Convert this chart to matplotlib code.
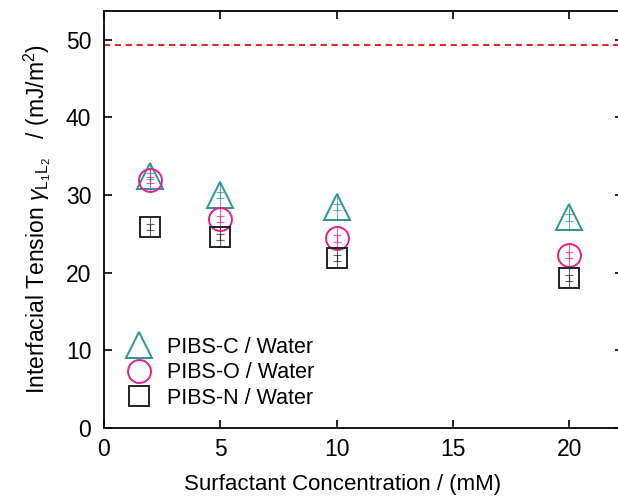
import numpy as np
import matplotlib
matplotlib.use("Agg")
import matplotlib.pyplot as plt

plt.rcParams['font.family'] = ['Liberation Sans', 'DejaVu Sans']
plt.rcParams['mathtext.fontset'] = 'custom'
plt.rcParams['mathtext.rm'] = 'Liberation Sans'
plt.rcParams['mathtext.it'] = 'Liberation Sans:italic'

conc = [2, 5, 10, 20]
pibs_c = [32.4, 30.0, 28.5, 27.1]
pibs_o = [31.9, 26.9, 24.4, 22.3]
pibs_n = [25.9, 24.6, 21.9, 19.3]
err_c = [1.8, 1.8, 1.8, 1.8]
err_o = [1.4, 1.4, 1.4, 1.4]
err_n = [1.3, 1.3, 1.3, 1.3]
cap_err = [0.4, 0.4, 0.4, 0.4]
ref_tension = 49.3

teal = '#2a9695'
pink = '#e0208c'
dark = '#222222'

fig = plt.figure(figsize=(6.18, 4.97), dpi=100)
ax = fig.add_axes([0.168, 0.139, 0.84, 0.839])

ax.axhline(ref_tension, color='#e02828', ls=(0, (3, 2.2)), lw=1.5, zorder=1)

series = [(pibs_c, err_c, '^', teal, 'PIBS-C / Water', 19),
          (pibs_o, err_o, 'o', pink, 'PIBS-O / Water', 16.5),
          (pibs_n, err_n, 's', dark, 'PIBS-N / Water', 14.5)]
for y, e, m, c, lab, ms in series:
    ax.errorbar(conc, y, yerr=e, fmt='none', ecolor=c, elinewidth=0.8, alpha=0.7, zorder=2)
    ax.errorbar(conc, y, yerr=cap_err, fmt='none', ecolor=c, elinewidth=0.8, capsize=3,
                capthick=0.8, alpha=0.7, zorder=2)
    ax.plot(conc, y, ls='none', marker=m, ms=ms, mfc='none', mec=c, mew=1.4, label=lab, zorder=3)

ax.set_xlim(0, 22.3)
ax.set_ylim(0, 53.7)
ax.set_xticks([0, 5, 10, 15, 20])
ax.set_yticks([0, 10, 20, 30, 40, 50])
ax.tick_params(direction='in', top=True, right=True, length=6, width=1.2, labelsize=16.5)
ax.tick_params(axis='x', pad=7)
ax.tick_params(axis='y', pad=9)
for s in ax.spines.values():
    s.set_linewidth(1.3)

ax.set_xlabel('Surfactant Concentration / (mM)', fontsize=16)
ax.xaxis.set_label_coords(0.46, -0.11)
ax.set_ylabel(r'Interfacial Tension $\gamma_{\mathregular{L_1L_2}}$   / (mJ/m$^2$)', fontsize=16.5, labelpad=9)

ax.legend(loc='lower left', bbox_to_anchor=(0.0, 0.0), frameon=False, fontsize=15.5,
          handletextpad=0.55, labelspacing=0.2, borderaxespad=0.5, handlelength=1.5)

fig.savefig('out.png', dpi=100)
